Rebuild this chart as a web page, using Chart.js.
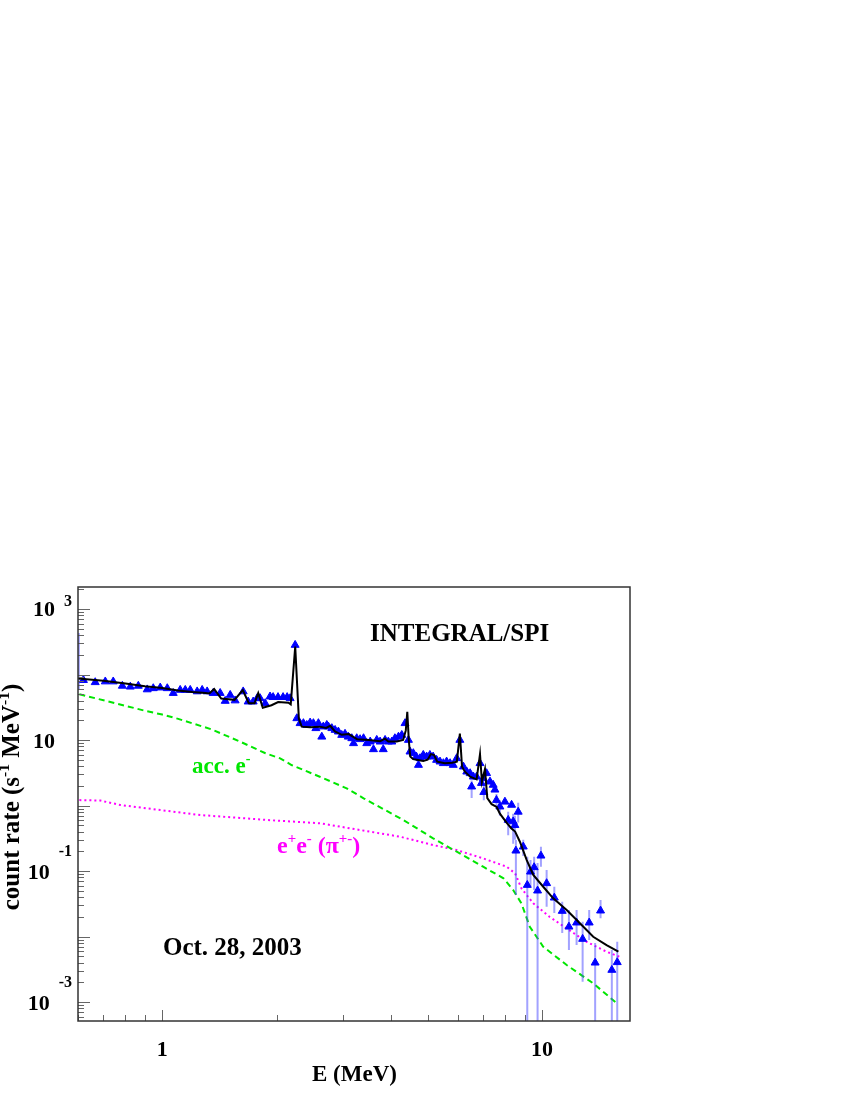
<!DOCTYPE html>
<html>
<head>
<meta charset="utf-8">
<script src="https://cdn.jsdelivr.net/npm/chart.js@4.4.0/dist/chart.umd.min.js"></script>
<style>
  body { margin: 0; background: #fff; }
  #wrap { position: relative; width: 850px; height: 1100px; }
</style>
</head>
<body>
<div id="wrap"><canvas id="spec" width="850" height="1100"></canvas></div>
<script>
// INTEGRAL/SPI count-rate spectrum, Oct. 28, 2003

// measured points (blue triangles)
const dataE = [0.620, 0.666, 0.708, 0.743, 0.785, 0.824, 0.865, 0.913, 0.947, 0.988,
  1.031, 1.069, 1.115, 1.15, 1.185, 1.236, 1.274, 1.313, 1.362, 1.421,
  1.465, 1.51, 1.556, 1.634, 1.684, 1.736, 1.778, 1.81, 1.867, 1.923,
  1.959, 2.018, 2.081, 2.133, 2.172, 2.239,
  2.262, 2.307, 2.354, 2.403, 2.452, 2.501, 2.539, 2.578, 2.632, 2.657,
  2.713, 2.739, 2.797, 2.853, 2.91, 2.97, 3.03, 3.09, 3.157, 3.19,
  3.253, 3.32, 3.39, 3.457, 3.53, 3.6, 3.673, 3.748, 3.82, 3.863,
  3.94, 4.024, 4.1, 4.19, 4.275, 4.36, 4.45,
  4.494, 4.584, 4.67, 4.73, 4.775, 4.87, 4.97, 5.07, 5.17, 5.28,
  5.39, 5.5, 5.61, 5.73, 5.84, 5.965, 6.08, 6.21, 6.34, 6.47,
  6.53, 6.6, 6.73, 6.87, 6.93, 7.01, 7.03, 7.15, 7.3, 7.44,
  7.52, 7.59, 7.75, 7.99, 8.15, 8.32, 8.40, 8.49, 8.54, 8.66,
  8.93, 9.15, 9.33, 9.54, 9.74, 9.94, 10.29, 10.78, 11.31, 11.78,
  12.34, 12.8, 13.32, 13.81, 14.27, 15.28, 15.79];
const dataRate = [82, 76, 78, 78, 67, 65, 67, 59, 61.5, 63,
  61.5, 52, 58, 58, 58, 55, 58, 55, 52, 52,
  39.4, 48.6, 40, 55, 38.5, 38.5, 43.3, 43.3, 36.3, 46,
  45, 45, 45, 45, 43.3, 282,
  21.4, 18, 18, 16.9, 18.4, 18, 15.1, 18, 11.2, 16,
  16.9, 16, 15.1, 14.2, 13.4, 11.9, 12.4, 11.2, 10.6, 8.9,
  10.6, 10.25, 10.6, 8.9, 9.42, 7.2, 10, 9.42, 7.2, 10,
  9.42, 9.42, 10.6, 11.2, 11.9, 18, 10,
  6.63, 6.27, 5.56, 4.15, 5.25, 5.9, 5.56, 5.9, 5.56, 4.95,
  4.67, 4.41, 4.67, 4.41, 4.15, 5.25, 10, 3.92, 3.28, 3.1,
  1.94, 2.75, 2.75, 4.41, 2.2, 2.6, 1.6, 3.1, 2.31, 2.06,
  1.74, 1.21, 0.96, 1.14, 0.6, 1.02, 0.57, 0.5, 0.204, 0.8,
  0.235, 0.061, 0.0975, 0.1138, 0.0501, 0.171, 0.0649, 0.0391, 0.0245, 0.0141,
  0.01626, 0.00916, 0.01626, 0.00398, 0.0248, 0.00308, 0.00404];

// error bars (lower/upper ends); 1e-5 = runs off the bottom
const barE  = [0.603, 6.53, 7.03, 7.59, 7.75, 8.15, 8.40, 8.49, 8.54, 8.66, 8.93, 9.15, 9.33, 9.54, 9.74,
  9.94, 10.29, 10.78, 11.31, 11.78, 12.34, 12.8, 13.32, 13.81, 14.27, 15.28, 15.79];
const barLo = [58, 1.3, 1.2, 0.9, 0.7, 0.35, 0.26, 0.3, 0.043, 0.55, 0.17, 1e-5, 0.0575, 0.0512, 1e-5,
  0.1164, 0.0285, 0.0229, 0.0113, 0.00622, 0.00741, 0.00204, 0.00885, 1e-5, 0.019, 1e-5, 1e-5];
const barHi = [430, 2.4, 2.0, 1.5, 1.2, 0.8, 0.75, 0.7, 0.297, 1.1, 0.30, 0.165, 0.147, 0.165, 0.132,
  0.235, 0.1035, 0.0575, 0.034, 0.0254, 0.0254, 0.01683, 0.0254, 0.00794, 0.0361, 0.00622, 0.00832];

// total model (black)
const modelE = [0.6, 0.7, 0.8, 0.9, 1.0, 1.1, 1.2, 1.3, 1.33, 1.37,
  1.43, 1.55, 1.63, 1.69, 1.75, 1.79, 1.84, 1.94, 2.02, 2.15,
  2.18, 2.24, 2.29, 2.33, 2.45, 2.6, 2.7, 2.77, 2.85, 2.97,
  3.1, 3.2, 3.26, 3.5, 3.75, 3.86, 3.94, 4.15, 4.31, 4.38,
  4.42, 4.46, 4.5, 4.58, 4.72, 4.87, 5.0, 5.1, 5.2, 5.3,
  5.55, 5.8, 5.97, 6.08, 6.16, 6.27, 6.47, 6.73, 6.87, 6.95,
  7.08, 7.18, 7.37, 7.6, 7.75, 8.07, 8.3, 8.5, 8.75, 9.12,
  9.49, 10.08, 10.71, 11.62, 12.59, 13.65, 14.8, 15.9];
const modelRate = [87, 80, 73, 66, 62, 57, 54, 52, 51.5, 60,
  43, 41, 58, 36.5, 36.5, 52, 31, 34, 38, 37,
  35, 268, 21, 16, 15.6, 16, 15.3, 16.5, 13.5, 12,
  12.3, 11, 10.3, 10, 9.6, 10.5, 9.5, 9.5, 10, 14,
  27, 10, 5.6, 5.1, 4.95, 4.8, 5.0, 6.1, 5.9, 4.67,
  4.41, 4.5, 4.67, 12.5, 3.9, 3.28, 2.75, 2.5, 6.1, 2.3,
  3.6, 1.3, 1.05, 0.95, 0.75, 0.55, 0.45, 0.4, 0.28, 0.147,
  0.087, 0.0575, 0.0383, 0.0254, 0.0159, 0.0099, 0.0074, 0.0059];

// accelerated electrons (green dashed)
const accE = [0.605, 0.911, 1.0, 1.102, 1.35, 1.62, 1.87, 2.044, 2.19, 2.6, 3.06, 3.39,
  4.315, 5.17, 5.965, 7.0, 7.92, 8.4, 8.83, 9.29, 10.08, 11.62, 13.65, 15.75];
const accRate = [50, 27.5, 24.5, 21, 14.5, 9.2, 6.27, 5.25, 4.15, 2.75, 1.83, 1.29,
  0.601, 0.316, 0.197, 0.1164, 0.0774, 0.0513, 0.0321, 0.0141, 0.00699, 0.00367, 0.00193, 0.000955];

// pion-decay e+e- (magenta dotted)
const pairE = [0.605, 0.687, 0.775, 0.988, 1.259, 1.886, 2.605, 4.23, 5.17, 5.965,
  7.0, 8.07, 8.5, 8.83, 9.49, 10.47, 11.62, 13.1, 14.8, 16.0];
const pairRate = [1.21, 1.19, 1.02, 0.853, 0.716, 0.601, 0.535, 0.334, 0.249, 0.209,
  0.156, 0.1164, 0.0922, 0.0544, 0.0321, 0.02, 0.0133, 0.00832, 0.00586, 0.00491];

// axis range and labels
const xMin = 0.6, xMax = 17.06;
const yMin = 5.13e-4, yMax = 2167;
const xLabelVal = [1, 10];
const yLabelExp = [3, 1, -1, -3];

const SERIF = '"Liberation Serif", "Times New Roman", serif';

// 위첨자 포함 텍스트
function richText(ctx, parts, x, y, size, align) {
  const supSize = size * 0.62;
  let w = 0;
  parts.forEach(p => {
    ctx.font = 'bold ' + (p[1] ? supSize : size) + 'px ' + SERIF;
    w += ctx.measureText(p[0]).width;
  });
  let cx = align === 'center' ? x - w / 2 : (align === 'right' ? x - w : x);
  ctx.textAlign = 'left';
  ctx.textBaseline = 'alphabetic';
  parts.forEach(p => {
    ctx.font = 'bold ' + (p[1] ? supSize : size) + 'px ' + SERIF;
    ctx.fillText(p[0], cx, p[1] ? y - size * 0.42 : y);
    cx += ctx.measureText(p[0]).width;
  });
}

const rootAxes = {
  id: 'rootAxes',
  afterDraw(chart) {
    const ctx = chart.ctx;
    const a = chart.chartArea;
    const x = chart.scales.x, y = chart.scales.y;
    ctx.save();

    // ticks pointing inward
    ctx.strokeStyle = '#666';
    ctx.lineWidth = 1;
    for (let d = -4; d <= 3; d++) {
      for (let m = 1; m <= 9; m++) {
        const v = m * Math.pow(10, d);
        if (v < yMin || v > yMax) continue;
        const py = Math.round(y.getPixelForValue(v)) + 0.5;
        ctx.beginPath();
        ctx.moveTo(a.left, py);
        ctx.lineTo(a.left + (m === 1 ? 12 : 6), py);
        ctx.stroke();
      }
    }
    for (let d = -1; d <= 1; d++) {
      for (let m = 1; m <= 9; m++) {
        const v = m * Math.pow(10, d);
        if (v < xMin || v > xMax) continue;
        const px = Math.round(x.getPixelForValue(v)) + 0.5;
        ctx.beginPath();
        ctx.moveTo(px, a.bottom);
        ctx.lineTo(px, a.bottom - (m === 1 ? 11 : 6));
        ctx.stroke();
      }
    }

    // frame
    ctx.strokeStyle = '#333';
    ctx.lineWidth = 1.5;
    ctx.strokeRect(a.left, a.top, a.right - a.left, a.bottom - a.top);

    ctx.fillStyle = '#000';
    // y labels
    yLabelExp.forEach(e => {
      const py = y.getPixelForValue(Math.pow(10, e));
      if (e === 1) {
        richText(ctx, [['10', 0]], 55, py + 7.5, 22, 'right');
        return;
      }
      const es = String(e);
      ctx.font = 'bold 16px ' + SERIF;
      const ew = ctx.measureText(es).width;
      ctx.textAlign = 'right';
      ctx.fillText(es, 72, (e > 0 ? py - 8 : py - 20) + 5);
      richText(ctx, [['10', 0]], 72 - ew - 9, py + 7.5, 22, 'right');
    });
    // x labels
    xLabelVal.forEach(v => {
      richText(ctx, [[String(v), 0]], x.getPixelForValue(v), 1056, 22, 'center');
    });

    // axis titles
    richText(ctx, [['E (MeV)', 0]], 312, 1081, 23, 'left');
    ctx.save();
    ctx.translate(19, 797);
    ctx.rotate(-Math.PI / 2);
    richText(ctx, [['count rate (s', 0], ['-1', 1], [' MeV', 0], ['-1', 1], [')', 0]], 0, 0, 25, 'center');
    ctx.restore();

    // annotations
    richText(ctx, [['INTEGRAL/SPI', 0]], 370, 641, 25, 'left');
    richText(ctx, [['Oct. 28, 2003', 0]], 163, 955, 25, 'left');
    ctx.fillStyle = '#00e600';
    richText(ctx, [['acc. e', 0], ['-', 1]], 192, 773, 23, 'left');
    ctx.fillStyle = '#ff00ff';
    richText(ctx, [['e', 0], ['+', 1], ['e', 0], ['-', 1], [' (', 0], ['\u03c0', 0], ['+-', 1], [')', 0]], 277, 853, 24, 'left');

    ctx.restore();
  }
};

const toXY = (xs, ys) => xs.map((v, i) => ({ x: v, y: ys[i] }));
const barPts = [];
barE.forEach((e, i) => {
  barPts.push({ x: e, y: barLo[i] }, { x: e, y: barHi[i] }, { x: e, y: null });
});

new Chart(document.getElementById('spec'), {
  type: 'scatter',
  data: {
    datasets: [
      { label: 'model', data: toXY(modelE, modelRate), showLine: true, borderColor: '#000',
        borderWidth: 2, pointRadius: 0, order: 1 },
      { label: 'data', data: toXY(dataE, dataRate), showLine: false, pointStyle: 'triangle',
        pointRadius: 4.6, borderWidth: 1, backgroundColor: '#0000ff', borderColor: '#0000ff', order: 2 },
      { label: 'errors', data: barPts, showLine: true, spanGaps: false, borderColor: 'rgba(70,70,255,0.5)',
        borderWidth: 2, pointRadius: 0, order: 3 },
      { label: 'acc. e-', data: toXY(accE, accRate), showLine: true, borderColor: '#00e600',
        borderDash: [6, 4], borderWidth: 2, pointRadius: 0, order: 4 },
      { label: 'e+e-', data: toXY(pairE, pairRate), showLine: true, borderColor: '#ff00ff',
        borderDash: [2, 3], borderWidth: 2, pointRadius: 0, order: 5 }
    ]
  },
  options: {
    responsive: false,
    animation: false,
    layout: { padding: { left: 78, top: 587, right: 220, bottom: 79 } },
    plugins: { legend: { display: false }, tooltip: { enabled: false } },
    scales: {
      x: { type: 'logarithmic', min: xMin, max: xMax, display: false },
      y: { type: 'logarithmic', min: yMin, max: yMax, display: false }
    }
  },
  plugins: [rootAxes]
});
</script>
</body>
</html>
